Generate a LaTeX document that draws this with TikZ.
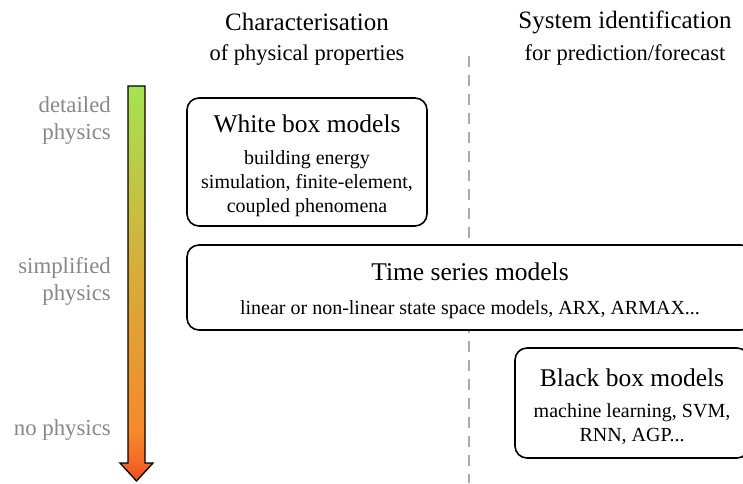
\documentclass[tikz,border=0pt]{standalone}
\usepackage{fontspec}
\setmainfont{Liberation Serif}
\definecolor{gA}{HTML}{EE4A22}
\definecolor{gB}{HTML}{F46A28}
\definecolor{gC}{HTML}{F58A2A}
\definecolor{gD}{HTML}{D6AD3C}
\definecolor{gE}{HTML}{A6E350}
\definecolor{lblgray}{HTML}{878787}
\definecolor{dashgray}{HTML}{AAAAAA}
\pgfdeclareverticalshading{physgrad}{100bp}{color(0bp)=(gA); color(25bp)=(gA); color(27.4bp)=(gB); color(31.5bp)=(gC); color(51.8bp)=(gD); color(75bp)=(gE); color(100bp)=(gE)}
\tikzset{
  modelbox/.style={draw=black, line width=1.6pt, rounded corners=12pt, fill=white, inner sep=0pt},
  boxtitle/.style={font=\fontsize{25.5}{28}\selectfont, inner sep=0pt, anchor=center},
  boxbody/.style={font=\fontsize{20}{24}\selectfont, inner sep=0pt, align=center, anchor=center},
  header/.style={font=\fontsize{25}{28}\selectfont, inner sep=0pt},
  subheader/.style={font=\fontsize{22.5}{24}\selectfont, inner sep=0pt},
  sidelabel/.style={font=\fontsize{22.8}{27}\selectfont, text=lblgray, align=right, anchor=east, inner sep=0pt},
}
\begin{document}
\begin{tikzpicture}[x=1pt,y=-1pt]
\useasboundingbox (0,0) rectangle (743,483);
\begin{scope}
\clip (0,0) rectangle (743,483);
% dashed divider
\coordinate (dtop) at (469,56);
\coordinate (dbot) at (469,483);
\draw[dashgray, line width=2.4pt, dash pattern=on 11pt off 8pt] (dtop) -- (dbot);
% headers
\node[header] (h1) at (307,22) {Characterisation};
\node[subheader] (h1b) at (307,55) {of physical properties};
\node[header] (h2) at (625,22) {System identification};
\node[subheader] (h2b) at (625,55) {for prediction/forecast};
% gradient arrow
\shadedraw[shading=physgrad, draw=black, line width=1.3pt, line join=miter]
  (128,86) -- (145,86) -- (145,463) -- (153,463) -- (136.5,481) -- (120,463) -- (128,463) -- cycle;
% side labels
\node[sidelabel] (l1) at (111,121) {detailed\\physics};
\node[sidelabel] (l2) at (111,281) {simplified\\physics};
\node[sidelabel] (l3) at (111,430) {no physics};
% white box
\node[modelbox, minimum width=240pt, minimum height=128pt] (wb) at (307,162) {};
\node[boxtitle] (wbt) at (307,124) {White box models};
\node[boxbody] (wbb) at (307,184) {building energy\\simulation, finite-element,\\coupled phenomena};
% time series
\node[modelbox, minimum width=566pt, minimum height=85pt] (ts) at (470,287.5) {};
\node[boxtitle] (tst) at (470,272) {Time series models};
\node[boxbody] (tsb) at (470,310) {linear or non-linear state space models, ARX, ARMAX...};
% black box
\node[modelbox, minimum width=234pt, minimum height=110pt] (bb) at (632,403) {};
\node[boxtitle] (bbt) at (632,378) {Black box models};
\node[boxbody] (bbb) at (632,424) {machine learning, SVM,\\RNN, AGP...};
\end{scope}
\end{tikzpicture}
\end{document}
